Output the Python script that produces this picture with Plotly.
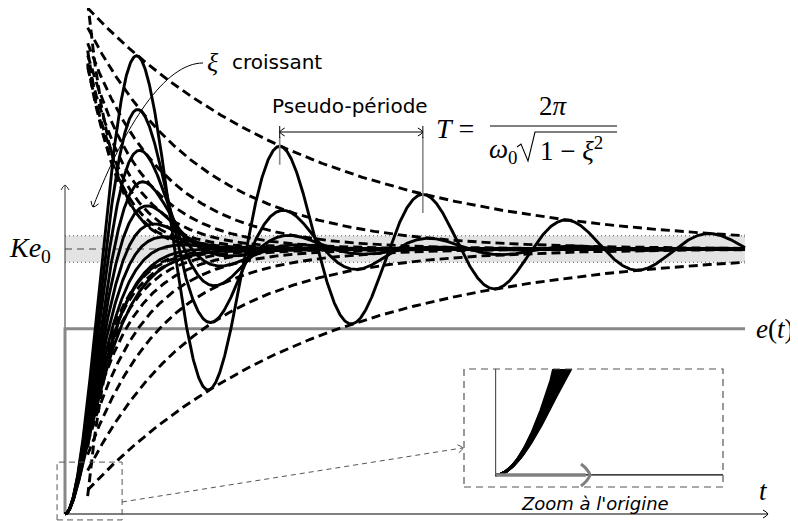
import numpy as np
import plotly.graph_objects as go

# family of second-order step responses, one per damping ratio
xi_values = [0.1, 0.2, 0.3, 0.4, 0.5, 0.6, 0.7, 0.8, 0.9, 1.0]
omega0 = 1.0
K = 1.43
e0 = 1.0
t_end = 30.0
t_env_start = 1.0        # envelopes drawn from t = 1
tolerance = 0.05         # +/-5 % band around K.e0
zoom_t = [-0.35, 2.52]   # region magnified in the inset
zoom_v = [-0.032, 0.28]
period_peaks = [2, 3]    # peaks of the xi = 0.1 response marking the pseudo-period

W, H = 798, 521          # window
OFF = 8                  # page body margin: the figure starts at (8, 8)
FW, FH = W - OFF, H - OFF
X0, Y0 = 65, 514         # window pixel of the origin
SX = 22.667              # px per unit of time
SY = 185.3               # px per unit of output
SERIF = "Liberation Serif"
SANS = "DejaVu Sans"
LW = 2.9                 # width of the response curves


def P(x, y):
    """window pixel -> paper coordinates"""
    return (x - OFF) / FW, (FH - (y - OFF)) / FH


def pstr(x, y):
    a, b = P(x, y)
    return f"{a:.5f},{b:.5f}"


def step(xi, t):
    if xi < 1:
        wd = omega0 * np.sqrt(1 - xi**2)
        s = 1 - np.exp(-xi * omega0 * t) * (np.cos(wd * t) + xi / np.sqrt(1 - xi**2) * np.sin(wd * t))
    else:
        s = 1 - (1 + omega0 * t) * np.exp(-omega0 * t)
    return K * e0 * s


def envelope(xi, t, sign):
    return K * e0 * (1 + sign * np.exp(-xi * omega0 * t) / np.sqrt(1 - xi**2))


shapes = []
annotations = []


def chevron(tip, d, size=5.0, half=4.0, color="black", width=1.0):
    dx, dy = d
    n = np.hypot(dx, dy)
    dx, dy = dx / n, dy / n
    bx, by = tip[0] - size * dx, tip[1] - size * dy
    a = (bx - half * dy, by + half * dx)
    b = (bx + half * dy, by - half * dx)
    ca = ((a[0] + tip[0]) / 2 + 0.3 * size * dx, (a[1] + tip[1]) / 2 + 0.3 * size * dy)
    cb = ((b[0] + tip[0]) / 2 + 0.3 * size * dx, (b[1] + tip[1]) / 2 + 0.3 * size * dy)
    path = f"M {pstr(*a)} Q {pstr(*ca)} {pstr(*tip)} Q {pstr(*cb)} {pstr(*b)}"
    shapes.append(dict(type="path", xref="paper", yref="paper", path=path,
                       line=dict(color=color, width=width)))


def pline(p0, p1, color="black", width=1.0, dash="solid"):
    x0, y0 = P(*p0)
    x1, y1 = P(*p1)
    shapes.append(dict(type="line", xref="paper", yref="paper", x0=x0, y0=y0, x1=x1, y1=y1,
                       line=dict(color=color, width=width, dash=dash)))


def label(x, y, text, size, family=SERIF, xanchor="center", color="black"):
    ax, ay = P(x, y)
    annotations.append(dict(x=ax, y=ay, xref="paper", yref="paper", text=text, showarrow=False,
                            xanchor=xanchor, yanchor="middle",
                            font=dict(family=family, size=size, color=color)))


fig = go.Figure()
t = np.linspace(0, t_end, 1800)
te = np.linspace(t_env_start, t_end, 1500)
Ke0 = K * e0

# tolerance band around K e0
lo, hi = Ke0 * (1 - tolerance), Ke0 * (1 + tolerance)
fig.add_trace(go.Scatter(x=[0, t_end, t_end, 0, 0], y=[lo, lo, hi, hi, lo], fill="toself",
                         fillcolor="#e3e3e3", mode="lines", line=dict(width=0), hoverinfo="skip"))
for lvl in (lo, hi):
    fig.add_trace(go.Scatter(x=[0, t_end], y=[lvl, lvl], mode="lines",
                             line=dict(color="#555", width=1, dash="1px,3px"), hoverinfo="skip"))
fig.add_trace(go.Scatter(x=[0, t_end], y=[Ke0, Ke0], mode="lines",
                         line=dict(color="#444", width=1.2, dash="7px,5px"), hoverinfo="skip"))

# main axes
fig.add_trace(go.Scatter(x=[0, 0], y=[0, (Y0 - 185) / SY], mode="lines",
                         line=dict(color="#333", width=1), hoverinfo="skip"))
fig.add_trace(go.Scatter(x=[0, (768 - X0) / SX], y=[0, 0], mode="lines",
                         line=dict(color="black", width=1.2), hoverinfo="skip"))

# input step e(t)
fig.add_trace(go.Scatter(x=[0, 0, t_end], y=[0, e0, e0], mode="lines",
                         line=dict(color="#888", width=3), hoverinfo="skip"))

# exponential envelopes
for xi in xi_values:
    if xi >= 1:
        continue
    for sign in (1, -1):
        fig.add_trace(go.Scatter(x=te, y=envelope(xi, te, sign), mode="lines",
                                 line=dict(color="black", width=LW, dash="9px,5px"), hoverinfo="skip"))

# step responses
for xi in xi_values:
    fig.add_trace(go.Scatter(x=t, y=step(xi, t), mode="lines",
                             line=dict(color="black", width=LW), hoverinfo="skip"))

# inset: zoom at the origin
ti = np.linspace(0, zoom_t[1], 600)
for xi in xi_values:
    fig.add_trace(go.Scatter(x=ti, y=step(xi, ti), mode="lines", xaxis="x2", yaxis="y2",
                             line=dict(color="black", width=LW), hoverinfo="skip"))
fig.add_trace(go.Scatter(x=[0, 0], y=[0, zoom_v[1]], mode="lines", xaxis="x2", yaxis="y2",
                         line=dict(color="#555", width=1.2), hoverinfo="skip"))
fig.add_trace(go.Scatter(x=[0, zoom_t[1]], y=[0, 0], mode="lines", xaxis="x2", yaxis="y2",
                         line=dict(color="black", width=1.2), hoverinfo="skip"))
fig.add_trace(go.Scatter(x=[0, 1.0], y=[0, 0], mode="lines", xaxis="x2", yaxis="y2",
                         line=dict(color="#808080", width=3.5), hoverinfo="skip"))

# pseudo-period markers on the xi = 0.1 response
xi_p = xi_values[0]
wd_p = omega0 * np.sqrt(1 - xi_p**2)
tk = [(2 * k - 1) * np.pi / wd_p for k in period_peaks]
for tp in tk:
    vpk = Ke0 * (1 + np.exp(-xi_p * omega0 * tp))
    fig.add_trace(go.Scatter(x=[tp, tp], y=[(Y0 - 137) / SY, vpk - 0.1], mode="lines",
                             line=dict(color="#888", width=1.6), hoverinfo="skip"))
px_pk = [X0 + tp * SX for tp in tk]
pline((px_pk[0], 132), (px_pk[1], 132), width=1)
for xp in px_pk:
    pline((xp, 126), (xp, 138), width=1)
chevron((px_pk[0], 132), (-1, 0))
chevron((px_pk[1], 132), (1, 0))

# zoom boxes and connector
shapes.append(dict(type="rect", xref="x", yref="y", x0=zoom_t[0], x1=zoom_t[1],
                   y0=zoom_v[0], y1=zoom_v[1], line=dict(color="#555", width=1, dash="6px,4px")))
x0i, y0i = P(464, 487)
x1i, y1i = P(723, 369)
shapes.append(dict(type="rect", xref="paper", yref="paper", x0=x0i, x1=x1i, y0=y0i, y1=y1i,
                   line=dict(color="#555", width=1.2, dash="7px,5px")))
pline((122, 502), (462, 448), color="#555", width=1, dash="5px,4px")
chevron((463, 448), (341, -54), color="#555")

# axis arrowheads
chevron((65, 185), (0, -1), color="#333")
chevron((768, 514), (1, 0))
chevron((590, 475), (1, 0), size=9, half=11, color="#808080", width=3)

# "xi croissant" curved arrow
path = f"M {pstr(203, 63)} C {pstr(165, 63)} {pstr(125, 125)} {pstr(93, 207)}"
shapes.append(dict(type="path", xref="paper", yref="paper", path=path, line=dict(color="black", width=1)))
chevron((93, 207), (-32, 82))
label(213, 62, "<i>ξ</i>", 26)
label(230, 62, "croissant", 20, family=SANS, xanchor="left")

# formula of the pseudo-period
label(350, 106, "Pseudo-période", 20, family=SANS)
label(455, 128, "<i>T</i> =", 28)
label(553, 106, "2<i>π</i>", 27)
pline((490, 126), (617, 126), width=1.2)
label(503, 151, "<i>ω</i><sub>0</sub>", 27)
rad = f"M {pstr(517, 147)} L {pstr(521, 144)} L {pstr(528, 161)} L {pstr(535, 132)} L {pstr(617, 132)}"
shapes.append(dict(type="path", xref="paper", yref="paper", path=rad, line=dict(color="black", width=1.1)))
label(538, 149, "1 − <i>ξ</i><sup>2</sup>", 27, xanchor="left")

# axis labels
label(30, 249, "<i>Ke</i><sub>0</sub>", 28)
label(775, 329, "<i>e</i>(<i>t</i>)", 27)
label(763, 491, "<i>t</i>", 27)
label(595, 503, "<i>Zoom à l'origine</i>", 18, family=SANS)

ax_off = dict(visible=False, showgrid=False, zeroline=False, fixedrange=True)
fig.update_layout(
    width=FW, height=FH,
    margin=dict(l=0, r=0, t=0, b=0),
    paper_bgcolor="white", plot_bgcolor="rgba(0,0,0,0)",
    showlegend=False,
    xaxis=dict(range=[-(X0 - OFF) / SX, (W - X0) / SX], domain=[0, 1], **ax_off),
    yaxis=dict(range=[-(H - Y0) / SY, (Y0 - OFF) / SY], domain=[0, 1], **ax_off),
    xaxis2=dict(range=zoom_t, domain=[P(464, 0)[0], P(723, 0)[0]], anchor="y2", **ax_off),
    yaxis2=dict(range=zoom_v, domain=[P(0, 487)[1], P(0, 369)[1]], anchor="x2", **ax_off),
    shapes=shapes,
    annotations=annotations,
)

fig.write_html("out.html")
